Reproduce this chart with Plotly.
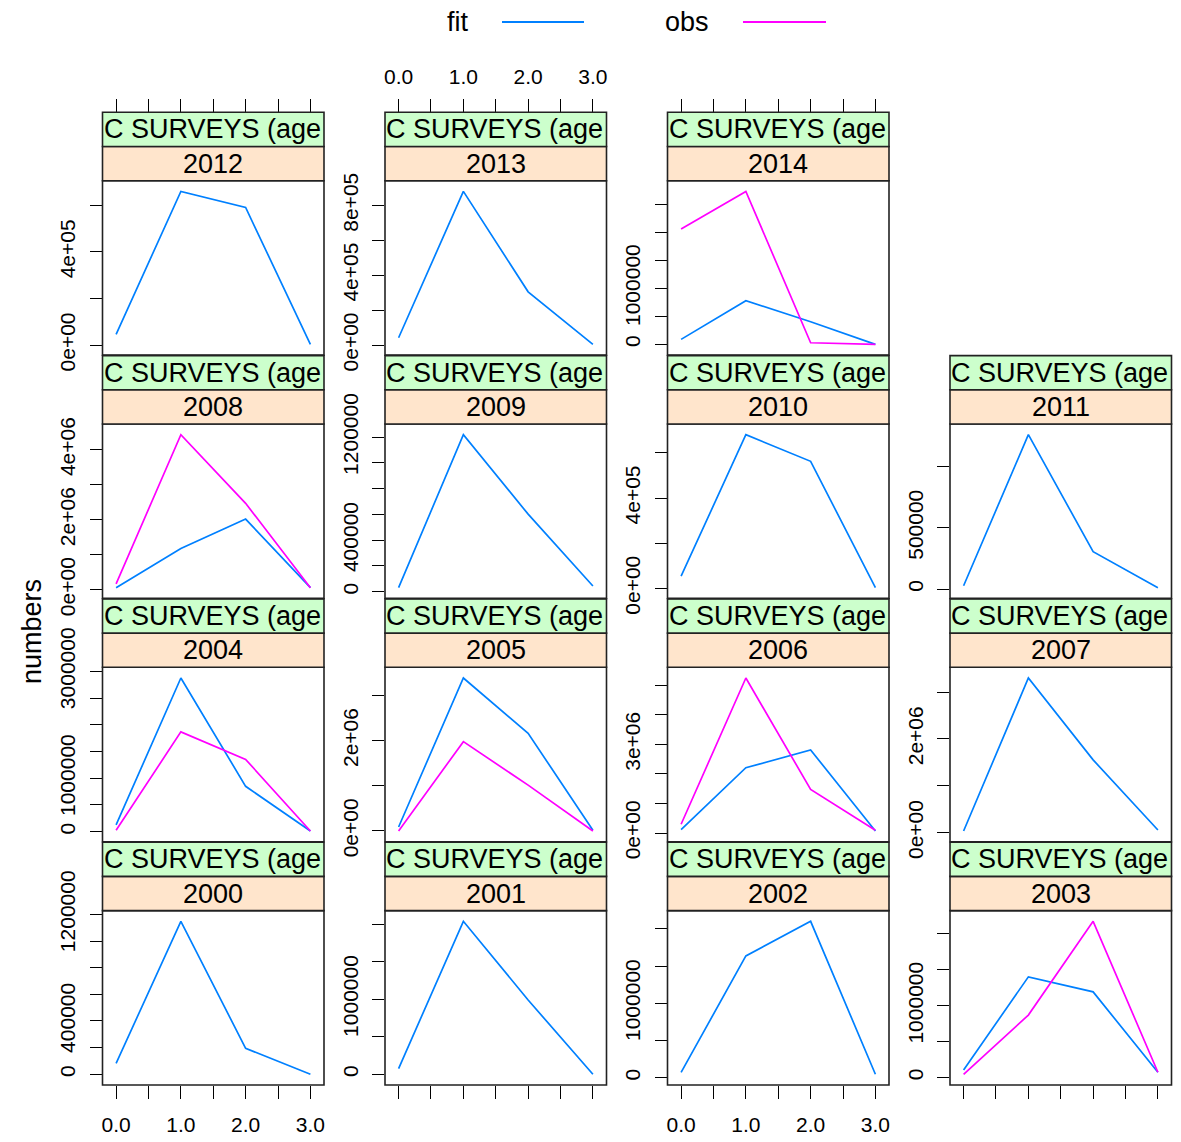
import plotly.graph_objects as go

# ---- data: survey numbers-at-age, fitted vs observed, one panel per year ----
ages = [0, 1, 2, 3]
years = list(range(2000, 2015))

fit_values = {
    2000: [82e3, 1148e3, 195e3, 0],
    2001: [76e3, 2036e3, 989e3, 0],
    2002: [72e3, 1635e3, 2100e3, 46e3],
    2003: [107e3, 1403e3, 1194e3, 75e3],
    2004: [126e3, 2876e3, 849e3, 13e3],
    2005: [89e3, 3387e3, 2164e3, 15e3],
    2006: [116e3, 2210e3, 2813e3, 68e3],
    2007: [36e3, 3300e3, 1553e3, 58e3],
    2008: [60e3, 1180e3, 2020e3, 60e3],
    2009: [31e3, 1219e3, 602e3, 44e3],
    2010: [54e3, 681e3, 563e3, 3e3],
    2011: [27e3, 1262e3, 306e3, 11e3],
    2012: [46e3, 660e3, 591e3, 3e3],
    2013: [42e3, 880e3, 305e3, 4e3],
    2014: [89e3, 779e3, 404e3, 0],
}

obs_values = {
    2003: [47e3, 871e3, 2176e3, 75e3],
    2004: [26e3, 1868e3, 1353e3, 13e3],
    2005: [0, 1978e3, 1015e3, 0],
    2006: [296e3, 5250e3, 1476e3, 92e3],
    2008: [170e3, 4430e3, 2470e3, 60e3],
    2014: [2054e3, 2725e3, 29e3, 0],
}

# y tick step, top tick, and the labelled ticks for each panel
y_ticks = {
    2000: (200e3, 1200e3, {0: "0", 400e3: "400000", 1200e3: "1200000"}),
    2001: (500e3, 2000e3, {0: "0", 1000e3: "1000000"}),
    2002: (500e3, 2000e3, {0: "0", 1000e3: "1000000"}),
    2003: (500e3, 2000e3, {0: "0", 1000e3: "1000000"}),
    2004: (500e3, 3000e3, {0: "0", 1000e3: "1000000", 3000e3: "3000000"}),
    2005: (1e6, 3e6, {0: "0e+00", 2e6: "2e+06"}),
    2006: (1e6, 5e6, {0: "0e+00", 3e6: "3e+06"}),
    2007: (1e6, 3e6, {0: "0e+00", 2e6: "2e+06"}),
    2008: (1e6, 4e6, {0: "0e+00", 2e6: "2e+06", 4e6: "4e+06"}),
    2009: (200e3, 1200e3, {0: "0", 400e3: "400000", 1200e3: "1200000"}),
    2010: (200e3, 600e3, {0: "0e+00", 400e3: "4e+05"}),
    2011: (500e3, 1000e3, {0: "0", 500e3: "500000"}),
    2012: (200e3, 600e3, {0: "0e+00", 400e3: "4e+05"}),
    2013: (200e3, 800e3, {0: "0e+00", 400e3: "4e+05", 800e3: "8e+05"}),
    2014: (500e3, 2500e3, {0: "0", 1000e3: "1000000"}),
}

x_tickvals = [0, 0.5, 1, 1.5, 2, 2.5, 3]
x_ticktext = ["0.0", "", "1.0", "", "2.0", "", "3.0"]

strip_outer = "C SURVEYS (age"
fit_colour = "#0080ff"
obs_colour = "#ff00ff"

# ---- page geometry (pixels) ----
W, H = 1181, 1142
FONT = "Liberation Sans, Arial, sans-serif"
col_left = [102.5, 385.0, 667.5, 950.0]
panel_w = 221.5
bottom_row_top = 910.6
row_step = 243.3
panel_h = 174.4
strip_h = 34.2


def fx(p):
    return p / W


def fy(p):
    return 1 - p / H


fig = go.Figure()
shapes = []
annotations = []

for i, year in enumerate(years):
    col = i % 4
    row_b = i // 4
    top = bottom_row_top - row_step * row_b
    bot = top + panel_h
    left = col_left[col]
    right = left + panel_w
    n = i + 1
    xa = "x" if n == 1 else f"x{n}"
    ya = "y" if n == 1 else f"y{n}"
    xkey = "xaxis" if n == 1 else f"xaxis{n}"
    ykey = "yaxis" if n == 1 else f"yaxis{n}"

    series = [fit_values[year]] + ([obs_values[year]] if year in obs_values else [])
    lo = min(min(s) for s in series)
    hi = max(max(s) for s in series)
    pad = 0.07 * (hi - lo)

    fig.add_trace(go.Scatter(x=ages, y=fit_values[year], mode="lines",
                             line=dict(color=fit_colour, width=1.7),
                             xaxis=xa, yaxis=ya, showlegend=False, name="fit"))
    if year in obs_values:
        fig.add_trace(go.Scatter(x=ages, y=obs_values[year], mode="lines",
                                 line=dict(color=obs_colour, width=1.7),
                                 xaxis=xa, yaxis=ya, showlegend=False, name="obs"))

    # x axis: ticks on the outer edges only, labels alternating
    xaxis = dict(domain=[fx(left), fx(right)], range=[-0.21, 3.21],
                 showgrid=False, zeroline=False, showline=False, automargin=False,
                 tickvals=x_tickvals, ticktext=x_ticktext,
                 tickfont=dict(family=FONT, size=21, color="black"),
                 ticklen=13, tickwidth=1.4, tickcolor="black")
    if row_b == 0:
        xaxis.update(anchor=ya, side="bottom", ticks="outside",
                     showticklabels=col in (0, 2), ticklabelstandoff=8)
    elif row_b == 3:
        xaxis.update(anchor="free", position=fy(top - 2 * strip_h), side="top",
                     ticks="outside", showticklabels=col == 1,
                     ticklabelstandoff=7)
    else:
        xaxis.update(anchor=ya, ticks="", showticklabels=False)
    fig.layout[xkey] = xaxis

    step, ymax, labelled = y_ticks[year]
    tv = []
    k = 0
    while k * step <= ymax + 1:
        tv.append(k * step)
        k += 1
    tt = [labelled.get(v, "") for v in tv]
    fig.layout[ykey] = dict(domain=[fy(bot), fy(top)], range=[lo - pad, hi + pad],
                            anchor=xa, showgrid=False, zeroline=False, showline=False,
                            automargin=False,
                            tickvals=tv, ticktext=tt, ticks="outside", ticklen=12,
                            tickwidth=1.4, tickcolor="black", tickangle=-90,
                            tickfont=dict(family=FONT, size=21, color="black"),
                            ticklabelstandoff=6)

    # panel frame
    shapes.append(dict(type="rect", xref=f"{xa} domain", yref=f"{ya} domain",
                       x0=0, x1=1, y0=0, y1=1,
                       line=dict(color="#222222", width=1.6), layer="above"))
    # strips: year (inner) and survey name (outer)
    shapes.append(dict(type="rect", xref="paper", yref="paper",
                       x0=fx(left), x1=fx(right), y0=fy(top), y1=fy(top - strip_h),
                       fillcolor="#ffe5cc", line=dict(color="#222222", width=1.6)))
    shapes.append(dict(type="rect", xref="paper", yref="paper",
                       x0=fx(left), x1=fx(right), y0=fy(top - strip_h),
                       y1=fy(top - 2 * strip_h),
                       fillcolor="#ccffcc", line=dict(color="#222222", width=1.6)))
    annotations.append(dict(text=str(year), xref="paper", yref="paper",
                            x=fx((left + right) / 2), y=fy(top - strip_h / 2),
                            xanchor="center", yanchor="middle", showarrow=False,
                            font=dict(family=FONT, size=27, color="black")))
    annotations.append(dict(text=strip_outer, xref="paper", yref="paper",
                            x=fx(left - 1), y=fy(top - 1.5 * strip_h),
                            xanchor="left", yanchor="middle", showarrow=False,
                            font=dict(family=FONT, size=27, color="black")))

# y axis title
annotations.append(dict(text="numbers", xref="paper", yref="paper",
                        x=fx(32), y=fy(632), xanchor="center", yanchor="middle",
                        textangle=-90, showarrow=False,
                        font=dict(family=FONT, size=27, color="black")))

# key at the top
for label, colour, tx, lx0, lx1 in [("fit", fit_colour, 458, 502, 584),
                                    ("obs", obs_colour, 687, 743, 826)]:
    annotations.append(dict(text=label, xref="paper", yref="paper",
                            x=fx(tx), y=fy(22), xanchor="center", yanchor="middle",
                            showarrow=False,
                            font=dict(family=FONT, size=27, color="black")))
    shapes.append(dict(type="line", xref="paper", yref="paper",
                       x0=fx(lx0), x1=fx(lx1), y0=fy(22), y1=fy(22),
                       line=dict(color=colour, width=2)))

fig.update_layout(width=W, height=H,
                  margin=dict(l=0, r=0, t=0, b=0, pad=0, autoexpand=False),
                  paper_bgcolor="white", plot_bgcolor="white",
                  shapes=shapes, annotations=annotations, showlegend=False)

fig.write_html("out.html")
